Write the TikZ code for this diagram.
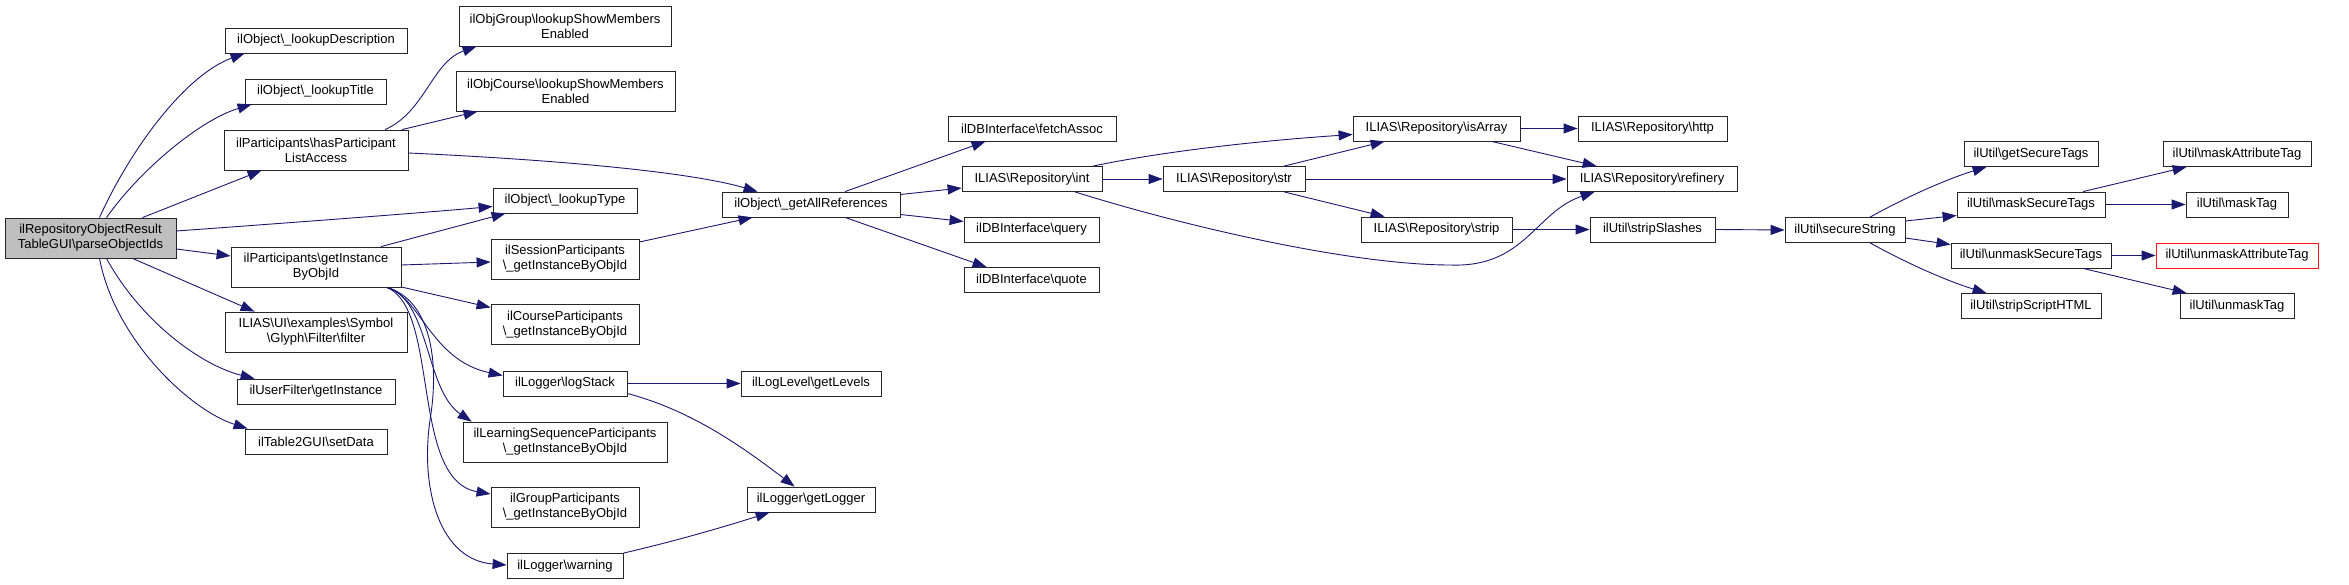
\documentclass[tikz,border=0pt]{standalone}
\usepackage{fontspec}
\setmainfont{Liberation Sans}
\usetikzlibrary{arrows.meta}
\definecolor{edgecol}{RGB}{25,25,112}
\definecolor{rootfill}{RGB}{191,191,191}
\newcommand\bsl{\textbackslash}
\begin{document}
\begin{tikzpicture}[x=1pt,y=-1pt,
  box/.style={draw=black!85,line width=0.8pt,fill=white,inner sep=0pt,align=center,
    font=\fontsize{13}{15}\selectfont},
  rootbox/.style={box,fill=rootfill},
  redbox/.style={box,draw=red!90},
  edge/.style={draw=edgecol,line width=0.9pt,-{Triangle[length=14pt,width=10pt]}}]
\useasboundingbox (0,0) rectangle (2349,585);
\fill[white] (0,0) rectangle (2349,585);

% nodes
\node[rootbox,minimum width=171pt,minimum height=40pt] (root) at (90.5,238) {ilRepositoryObjectResult\\TableGUI\bsl parseObjectIds};
\node[box,minimum width=182pt,minimum height=25pt] (lkD) at (316,40.5) {ilObject\bsl\_lookupDescription};
\node[box,minimum width=141pt,minimum height=25pt] (lkT) at (315.5,91.5) {ilObject\bsl\_lookupTitle};
\node[box,minimum width=184pt,minimum height=40pt] (hasPLA) at (316,150) {ilParticipants\bsl hasParticipant\\ListAccess};
\node[box,minimum width=170pt,minimum height=40pt] (getInst) at (316,267) {ilParticipants\bsl getInstance\\ByObjId};
\node[box,minimum width=182pt,minimum height=40pt] (filter) at (316,332) {ILIAS\bsl UI\bsl examples\bsl Symbol\\\bsl Glyph\bsl Filter\bsl filter};
\node[box,minimum width=158pt,minimum height=25pt] (userFilter) at (316,391.5) {ilUserFilter\bsl getInstance};
\node[box,minimum width=142pt,minimum height=25pt] (setData) at (316,441.5) {ilTable2GUI\bsl setData};

\node[box,minimum width=212pt,minimum height=40pt] (objGroup) at (565,26) {ilObjGroup\bsl lookupShowMembers\\Enabled};
\node[box,minimum width=219pt,minimum height=40pt] (objCourse) at (565.5,91) {ilObjCourse\bsl lookupShowMembers\\Enabled};
\node[box,minimum width=144pt,minimum height=25pt] (lookupType) at (565,200.5) {ilObject\bsl\_lookupType};
\node[box,minimum width=148pt,minimum height=40pt] (sessionP) at (565,259) {ilSessionParticipants\\\bsl\_getInstanceByObjId};
\node[box,minimum width=148pt,minimum height=40pt] (courseP) at (565,324.5) {ilCourseParticipants\\\bsl\_getInstanceByObjId};
\node[box,minimum width=124pt,minimum height=25pt] (logStack) at (565,383.5) {ilLogger\bsl logStack};
\node[box,minimum width=204pt,minimum height=40pt] (lsP) at (565,442) {ilLearningSequenceParticipants\\\bsl\_getInstanceByObjId};
\node[box,minimum width=148pt,minimum height=40pt] (groupP) at (565,507) {ilGroupParticipants\\\bsl\_getInstanceByObjId};
\node[box,minimum width=116pt,minimum height=25pt] (warning) at (565,566) {ilLogger\bsl warning};

\node[box,minimum width=178pt,minimum height=25pt] (getAllRefs) at (811,204.5) {ilObject\bsl\_getAllReferences};
\node[box,minimum width=140pt,minimum height=25pt] (getLevels) at (811,383.5) {ilLogLevel\bsl getLevels};
\node[box,minimum width=128pt,minimum height=25pt] (getLogger) at (811,499.5) {ilLogger\bsl getLogger};

\node[box,minimum width=168pt,minimum height=25pt] (fetchAssoc) at (1032,128.5) {ilDBInterface\bsl fetchAssoc};
\node[box,minimum width=140pt,minimum height=25pt] (int) at (1032,179) {ILIAS\bsl Repository\bsl int};
\node[box,minimum width=135pt,minimum height=25pt] (query) at (1031.5,229.5) {ilDBInterface\bsl query};
\node[box,minimum width=135pt,minimum height=25pt] (quote) at (1031.5,280) {ilDBInterface\bsl quote};
\node[box,minimum width=142pt,minimum height=25pt] (str) at (1234,179) {ILIAS\bsl Repository\bsl str};

\node[box,minimum width=167pt,minimum height=25pt] (isArray) at (1436.5,128.5) {ILIAS\bsl Repository\bsl isArray};
\node[box,minimum width=151pt,minimum height=25pt] (strip) at (1436.5,229.5) {ILIAS\bsl Repository\bsl strip};
\node[box,minimum width=149pt,minimum height=25pt] (http) at (1652.5,128.5) {ILIAS\bsl Repository\bsl http};
\node[box,minimum width=170pt,minimum height=25pt] (refinery) at (1652,179) {ILIAS\bsl Repository\bsl refinery};
\node[box,minimum width=125pt,minimum height=25pt] (stripSlashes) at (1652.5,229.5) {ilUtil\bsl stripSlashes};

\node[box,minimum width=120pt,minimum height=25pt] (secureString) at (1845,230) {ilUtil\bsl secureString};
\node[box,minimum width=134pt,minimum height=25pt] (getSecureTags) at (2031,154) {ilUtil\bsl getSecureTags};
\node[box,minimum width=148pt,minimum height=25pt] (maskSecureTags) at (2031,204.5) {ilUtil\bsl maskSecureTags};
\node[box,minimum width=160pt,minimum height=25pt] (unmaskSecureTags) at (2031,255.5) {ilUtil\bsl unmaskSecureTags};
\node[box,minimum width=140pt,minimum height=25pt] (stripScriptHTML) at (2031,306) {ilUtil\bsl stripScriptHTML};
\node[box,minimum width=148pt,minimum height=25pt] (maskAttributeTag) at (2237,154) {ilUtil\bsl maskAttributeTag};
\node[box,minimum width=102pt,minimum height=25pt] (maskTag) at (2237,204.5) {ilUtil\bsl maskTag};
\node[redbox,minimum width=162pt,minimum height=25pt] (unmaskAttributeTag) at (2237,255.5) {ilUtil\bsl unmaskAttributeTag};
\node[box,minimum width=114pt,minimum height=25pt] (unmaskTag) at (2237,306) {ilUtil\bsl unmaskTag};

% edges from root
\draw[edge] ([xshift=9pt]root.north) .. controls (130,150) and (185,75) .. ([xshift=20pt]lkD.south west);
\draw[edge] ([xshift=16pt]root.north) .. controls (140,170) and (200,120) .. ([xshift=7pt]lkT.south west);
\draw[edge] ([xshift=52pt]root.north) -- ([xshift=38pt]hasPLA.south west);
\draw[edge] ([yshift=7pt]root.east) .. controls (300,222) and (420,213) .. ([yshift=-6pt]lookupType.west);
\draw[edge] ([yshift=-11pt]root.east) -- ([yshift=11pt]getInst.west);
\draw[edge] ([xshift=42pt]root.south) -- ([xshift=30pt]filter.north west);
\draw[edge] ([xshift=16pt]root.south) .. controls (140,320) and (200,365) .. ([xshift=18pt]userFilter.north west);
\draw[edge] ([xshift=9pt]root.south) .. controls (115,340) and (190,410) .. ([xshift=3pt]setData.north west);

% hasParticipantListAccess
\draw[edge] ([xshift=69pt]hasPLA.north) .. controls (425,112) and (432,62) .. ([xshift=18pt]objGroup.south west);
\draw[edge] ([xshift=86pt]hasPLA.north) -- ([xshift=22pt]objCourse.south west);
\draw[edge] ([yshift=-3pt]hasPLA.east) .. controls (560,160) and (690,172) .. ([xshift=36pt]getAllRefs.north west);

% getInstanceByObjId
\draw[edge] ([xshift=65pt]getInst.north) -- ([xshift=13pt]lookupType.south west);
\draw[edge] ([yshift=2pt]getInst.east) -- ([yshift=-3pt]sessionP.west);
\draw[edge] ([yshift=-20pt]getInst.east) -- ([yshift=17pt]courseP.west);
\draw[edge] ([xshift=70pt]getInst.south) .. controls (420,295) and (430,360) .. ([yshift=8pt]logStack.west);
\draw[edge] ([xshift=71pt]getInst.south) .. controls (430,300) and (425,390) .. ([xshift=9pt]lsP.north west);
\draw[edge] ([xshift=71pt]getInst.south) .. controls (440,310) and (410,480) .. ([yshift=13pt]groupP.west);
\draw[edge] ([xshift=71pt]getInst.south) .. controls (430,300) and (440,360) .. (430,420) .. controls (420,490) and (440,560) .. ([yshift=1pt]warning.west);

\draw[edge] ([yshift=17pt]sessionP.east) -- ([xshift=31pt]getAllRefs.south west);
\draw[edge] (logStack.east) -- (getLevels.west);
\draw[edge] ([yshift=-10pt]logStack.east) .. controls (690,410) and (740,445) .. ([xshift=48pt]getLogger.north west);
\draw[edge] (warning.north east) .. controls (680,540) and (730,525) .. ([xshift=23pt]getLogger.south west);

% getAllReferences
\draw[edge] ([xshift=34pt]getAllRefs.north) -- ([xshift=38pt]fetchAssoc.south west);
\draw[edge] ([yshift=10pt]getAllRefs.east) -- ([yshift=-9pt]int.west);
\draw[edge] ([yshift=-10pt]getAllRefs.east) -- ([yshift=8pt]query.west);
\draw[edge] ([xshift=34pt]getAllRefs.south) -- ([xshift=23pt]quote.north west);

% int
\draw[edge] ([xshift=61pt]int.north) .. controls (1170,150) and (1270,140) .. ([yshift=-6pt]isArray.west);
\draw[edge] (int.east) -- (str.west);
\draw[edge] ([xshift=43pt]int.south) .. controls (1180,225) and (1350,265) .. (1450,265) .. controls (1525,268) and (1535,212) .. ([xshift=28pt]refinery.south west);

% str
\draw[edge] ([xshift=50pt]str.north) -- ([xshift=32pt]isArray.south west);
\draw[edge] (str.east) -- (refinery.west);
\draw[edge] ([xshift=50pt]str.south) -- ([xshift=24pt]strip.north west);

\draw[edge] (isArray.east) -- (http.west);
\draw[edge] ([xshift=55pt]isArray.south) -- ([xshift=30pt]refinery.north west);
\draw[edge] (strip.east) -- (stripSlashes.west);
\draw[edge] (stripSlashes.east) -- (secureString.west);

% secureString
\draw[edge] ([xshift=25pt]secureString.north) .. controls (1910,195) and (1950,178) .. ([xshift=23pt]getSecureTags.south west);
\draw[edge] ([yshift=9pt]secureString.east) -- ([yshift=-11pt]maskSecureTags.west);
\draw[edge] ([yshift=-8pt]secureString.east) -- ([yshift=11pt]unmaskSecureTags.west);
\draw[edge] ([xshift=25pt]secureString.south) .. controls (1910,265) and (1950,282) .. ([xshift=26pt]stripScriptHTML.north west);

\draw[edge] ([xshift=52pt]maskSecureTags.north) -- ([xshift=24pt]maskAttributeTag.south west);
\draw[edge] (maskSecureTags.east) -- (maskTag.west);
\draw[edge] (unmaskSecureTags.east) -- (unmaskAttributeTag.west);
\draw[edge] ([xshift=52pt]unmaskSecureTags.south) -- ([xshift=7pt]unmaskTag.north west);
\end{tikzpicture}
\end{document}
